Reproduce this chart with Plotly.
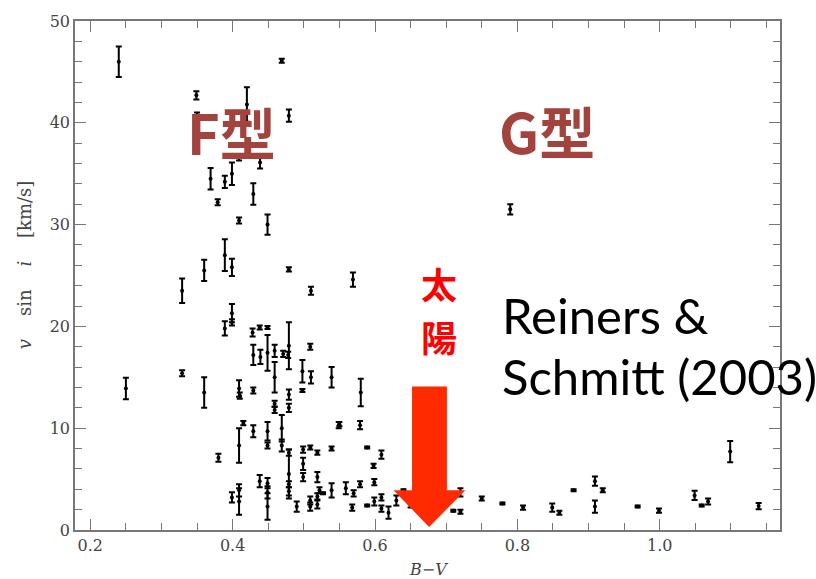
import plotly.graph_objects as go

# B-V colour index
bv = [0.240, 0.250, 0.329, 0.329, 0.360, 0.360, 0.349, 0.350, 0.369, 0.379,
      0.389, 0.399, 0.409, 0.420, 0.4385, 0.429, 0.409, 0.449, 0.469, 0.479,
      0.479, 0.389, 0.399, 0.569, 0.510, 0.399, 0.399, 0.389, 0.428, 0.438,
      0.449, 0.429, 0.439, 0.449, 0.459, 0.459, 0.471, 0.479, 0.478, 0.509,
      0.498, 0.510, 0.498, 0.409, 0.410, 0.429, 0.479, 0.479, 0.459, 0.459,
      0.469, 0.469, 0.409, 0.415, 0.429, 0.449, 0.449, 0.479, 0.479, 0.479,
      0.479, 0.490, 0.499, 0.509, 0.519, 0.499, 0.499, 0.519, 0.539, 0.539,
      0.527, 0.509, 0.509, 0.519, 0.519, 0.522, 0.380, 0.438, 0.449, 0.449,
      0.449, 0.409, 0.409, 0.399, 0.549, 0.579, 0.589, 0.609, 0.598, 0.599,
      0.559, 0.570, 0.579, 0.568, 0.589, 0.599, 0.609, 0.609, 0.619, 0.630,
      0.640, 0.650, 0.720, 0.710, 0.720, 0.750, 0.779, 0.808, 0.849, 0.859,
      0.879, 0.909, 0.920, 0.909, 0.969, 0.999, 1.049, 1.059, 1.068, 1.099,
      1.139, 0.790, 0.580, 0.539, 0.550, 0.690, 0.700]

# v sin i [km/s]
vsini = [46.0, 13.9, 23.5, 15.4, 25.5, 13.5, 42.7, 40.0, 34.5, 32.2,
         34.2, 35.0, 36.6, 41.8, 36.1, 33.0, 30.4, 30.0, 46.1, 40.7,
         25.6, 27.0, 25.8, 24.6, 23.5, 21.3, 20.4, 19.8, 19.4, 19.9,
         19.9, 17.2, 17.0, 17.4, 17.6, 15.0, 17.3, 18.1, 17.2, 18.0,
         15.6, 15.0, 13.7, 13.9, 13.2, 13.7, 13.3, 12.0, 12.4, 11.8,
         10.0, 8.3, 8.3, 10.5, 9.7, 9.7, 8.3, 7.6, 5.5, 4.5,
         3.8, 2.3, 7.9, 8.1, 7.6, 6.5, 5.2, 5.2, 8.0, 3.9,
         3.6, 2.9, 2.3, 2.5, 3.3, 3.9, 7.1, 4.8, 4.6, 3.7,
         2.3, 3.9, 2.8, 3.2, 10.3, 10.3, 8.1, 7.4, 6.3, 4.7,
         4.1, 3.6, 4.5, 2.2, 2.4, 2.8, 3.2, 2.1, 1.7, 2.9,
         3.9, 2.4, 3.7, 1.9, 1.8, 3.1, 2.6, 2.2, 2.2, 1.7,
         3.9, 4.8, 3.9, 2.3, 2.3, 1.9, 3.4, 2.4, 2.8, 7.7,
         2.35, 31.5, 13.5, 15.0, 10.4, 2.6, 3.3]

# uncertainty
err = [1.5, 1.05, 1.2, 0.3, 1.05, 1.5, 0.4, 1.0, 1.05, 0.3,
       0.6, 1.1, 0.3, 1.7, 0.6, 1.05, 0.3, 1.0, 0.2, 0.6,
       0.2, 1.55, 0.85, 0.7, 0.4, 0.9, 0.3, 0.7, 0.4, 0.2,
       0.15, 1.0, 0.7, 1.75, 0.6, 1.5, 0.3, 2.3, 0.3, 0.3,
       1.1, 0.6, 0.15, 0.8, 0.3, 0.3, 0.5, 0.4, 0.3, 0.3,
       1.3, 0.6, 1.7, 0.2, 0.6, 0.9, 0.3, 0.3, 2.4, 0.3,
       0.4, 0.5, 0.3, 0.2, 0.2, 0.6, 0.4, 0.5, 0.2, 0.7,
       0.1, 0.4, 0.4, 0.4, 0.3, 0.3, 0.4, 0.6, 0.5, 0.6,
       1.3, 0.6, 1.3, 0.5, 0.3, 0.4, 0.1, 0.4, 0.2, 0.3,
       0.6, 0.3, 0.3, 0.3, 0.1, 0.4, 0.3, 0.3, 0.6, 0.5,
       0.1, 0.2, 0.4, 0.1, 0.2, 0.2, 0.1, 0.2, 0.4, 0.2,
       0.1, 0.45, 0.2, 0.6, 0.1, 0.2, 0.45, 0.1, 0.3, 1.05,
       0.3, 0.5, 1.35, 1.0, 0.2, 0.2, 0.3]

x_ticks = [0.2, 0.4, 0.6, 0.8, 1.0]
y_ticks = [0, 10, 20, 30, 40, 50]

# Sun arrow (data units)
arrow_x = [0.652, 0.701, 0.727, 0.676, 0.626]
arrow_y = [14.1, 3.9, 0.3]

fig = go.Figure()
fig.add_trace(go.Scatter(
    x=bv, y=vsini, mode="markers",
    marker=dict(color="black", size=4),
    error_y=dict(type="data", array=err, visible=True, color="black",
                 thickness=2, width=3),
    showlegend=False, hoverinfo="skip"))

ax_common = dict(showgrid=False, zeroline=False, showline=True, linecolor="#777",
                 linewidth=1.5, mirror="ticks", ticks="inside", tickcolor="#777",
                 tickwidth=1.2, ticklen=11,
                 tickfont=dict(family="DejaVu Serif", size=16, color="#444"))

fig.update_layout(
    width=816, height=579,
    margin=dict(l=75, r=36, t=13, b=49),
    paper_bgcolor="white", plot_bgcolor="white",
    xaxis=dict(range=[0.1785, 1.169], tickvals=x_ticks,
               ticktext=[f"{v:.1f}" for v in x_ticks],
               minor=dict(dtick=0.05, tick0=0, ticks="inside", ticklen=7,
                          tickcolor="#777", tickwidth=1.2),
               **ax_common),
    yaxis=dict(range=[0, 50], tickvals=y_ticks,
               minor=dict(dtick=2, tick0=0, ticks="inside", ticklen=7,
                          tickcolor="#777", tickwidth=1.2),
               **ax_common),
)

ax0, ax1, ax2 = arrow_x[0], arrow_x[1], arrow_x[2]
tipx, hx0 = arrow_x[3], arrow_x[4]
path = (f"M {ax0},{arrow_y[0]} L {ax1},{arrow_y[0]} L {ax1},{arrow_y[1]} "
        f"L {ax2},{arrow_y[1]} L {tipx},{arrow_y[2]} L {hx0},{arrow_y[1]} "
        f"L {ax0},{arrow_y[1]} Z")
fig.add_shape(type="path", path=path, xref="x", yref="y",
              fillcolor="#ff2a00", line=dict(width=0), layer="above")


def px(p):
    return (p - 75) / 705


def py(p):
    return (530 - p) / 517


cjk = "Noto Sans CJK JP"
brown = "#a3433e"
sp = "&nbsp;" * 4
fig.add_annotation(x=0.399, y=39.2, xref="x", yref="y", text="<b>F型</b>",
                   showarrow=False, xanchor="center", yanchor="middle",
                   font=dict(family=cjk, size=56, color=brown))
fig.add_annotation(x=0.842, y=39.3, xref="x", yref="y", text="<b>G型</b>",
                   showarrow=False, xanchor="center", yanchor="middle",
                   font=dict(family=cjk, size=56, color=brown))
fig.add_annotation(x=px(439), y=py(279), xref="paper", yref="paper",
                   text="<b>太</b>", showarrow=False,
                   xanchor="center", yanchor="middle",
                   font=dict(family=cjk, size=36, color="#ff0000"))
fig.add_annotation(x=px(439), y=py(333), xref="paper", yref="paper",
                   text="<b>陽</b>", showarrow=False,
                   xanchor="center", yanchor="middle",
                   font=dict(family=cjk, size=36, color="#ff0000"))
fig.add_annotation(x=px(500), y=py(312), xref="paper", yref="paper",
                   xanchor="left", yanchor="middle", text="Reiners &",
                   showarrow=False,
                   font=dict(family="Lato", size=49, color="black"))
fig.add_annotation(x=px(500), y=py(374), xref="paper", yref="paper",
                   xanchor="left", yanchor="middle", text="Schmitt (2003)",
                   showarrow=False,
                   font=dict(family="Lato", size=49, color="black"))
fig.add_annotation(x=px(429), y=py(570), xref="paper", yref="paper",
                   xanchor="center", yanchor="middle",
                   text="<i>B</i>−<i>V</i>", showarrow=False,
                   font=dict(family="DejaVu Serif", size=16, color="#444"))
fig.add_annotation(x=px(24), y=py(261), xref="paper", yref="paper",
                   xanchor="center", yanchor="middle",
                   text=f"<i>v</i>{sp}sin{sp}<i>i</i>{sp}[km/s]", textangle=-90,
                   showarrow=False,
                   font=dict(family="DejaVu Serif", size=18, color="#444"))

fig.write_html("out.html")
